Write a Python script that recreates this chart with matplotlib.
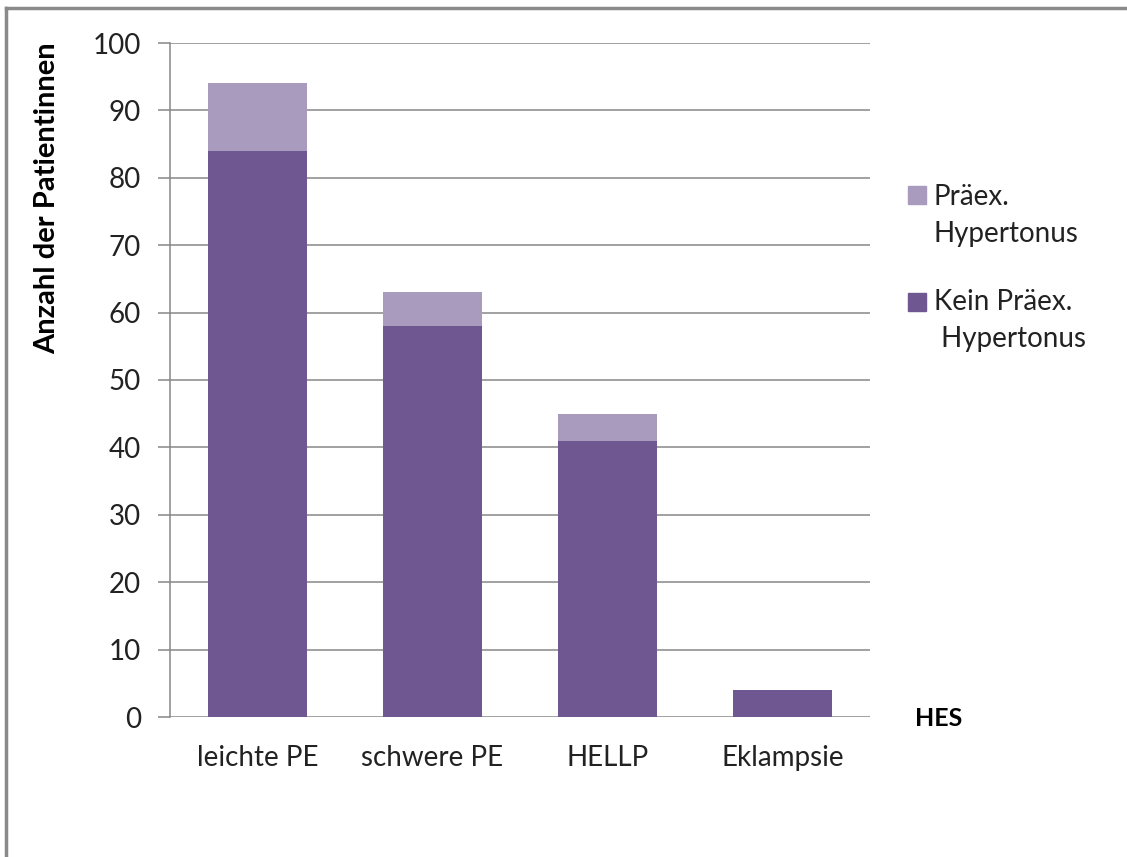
import matplotlib.pyplot as plt
import numpy as np
from matplotlib.lines import Line2D
from matplotlib.patches import Rectangle

plt.rcParams['font.family'] = ['Lato', 'DejaVu Sans']

# Daten
kategorien = ["leichte PE", "schwere PE", "HELLP", "Eklampsie"]
kein_praeex = [84, 58, 41, 4]
praeex = [10, 5, 4, 0]

dunkel = "#6f5891"
hell = "#a89bbd"
grau = "#878787"
schrift = "#222222"

W, H = 1127, 857
fig = plt.figure(figsize=(W / 100, H / 100), dpi=100)
ax = fig.add_axes([170 / W, 1 - 717 / H, 700 / W, 674 / H])

x = np.arange(len(kategorien))
b1 = ax.bar(x, kein_praeex, width=0.57, color=dunkel, zorder=3)
b2 = ax.bar(x, praeex, width=0.57, bottom=kein_praeex, color=hell, zorder=3)

ax.set_xlim(-0.5, 3.5)
ax.set_ylim(0, 100)
ax.set_yticks(np.arange(0, 101, 10))
ax.set_xticks(x)
ax.set_xticklabels(kategorien)

ax.grid(axis='y', color=grau, linewidth=1.1, zorder=0)
for s in ['top', 'right', 'bottom']:
    ax.spines[s].set_visible(False)
ax.spines['left'].set_color(grau)
ax.spines['left'].set_linewidth(1.1)
ax.tick_params(axis='y', length=9, width=1.1, color=grau, labelsize=20, pad=12, labelcolor=schrift)
ax.tick_params(axis='x', length=0, labelsize=20, pad=20, labelcolor=schrift)

fig.text(47 / W, 1 - 198 / H, "Anzahl der Patientinnen", fontsize=21, fontweight='bold',
         rotation=90, ha='center', va='center', color='black')
fig.text(915 / W, 1 - 718 / H, "HES", fontsize=18, fontweight='bold', va='center', ha='left')

# Legende
eintraege = [
    (hell, "Präex.", "Hypertonus", 186, 205, 242, 934),
    (dunkel, "Kein Präex.", " Hypertonus", 293, 310, 347, 934),
]
for farbe, z1, z2, sq_top, bl1, bl2, tx in eintraege:
    fig.add_artist(Rectangle((908 / W, 1 - (sq_top + 18) / H), 18 / W, 18 / H,
                             transform=fig.transFigure, color=farbe))
    fig.text(tx / W, 1 - bl1 / H, z1, fontsize=20, va='baseline', ha='left', color=schrift)
    fig.text(tx / W, 1 - bl2 / H, z2, fontsize=20, va='baseline', ha='left', color=schrift)

# Rahmen oben und links
fig.add_artist(Line2D([6 / W, 1], [1 - 8 / H, 1 - 8 / H], transform=fig.transFigure, color='#8a8a8a', linewidth=2.5))
fig.add_artist(Line2D([6 / W, 6 / W], [0, 1 - 8 / H], transform=fig.transFigure, color='#8a8a8a', linewidth=2.5))

fig.savefig("out.png", dpi=100)
